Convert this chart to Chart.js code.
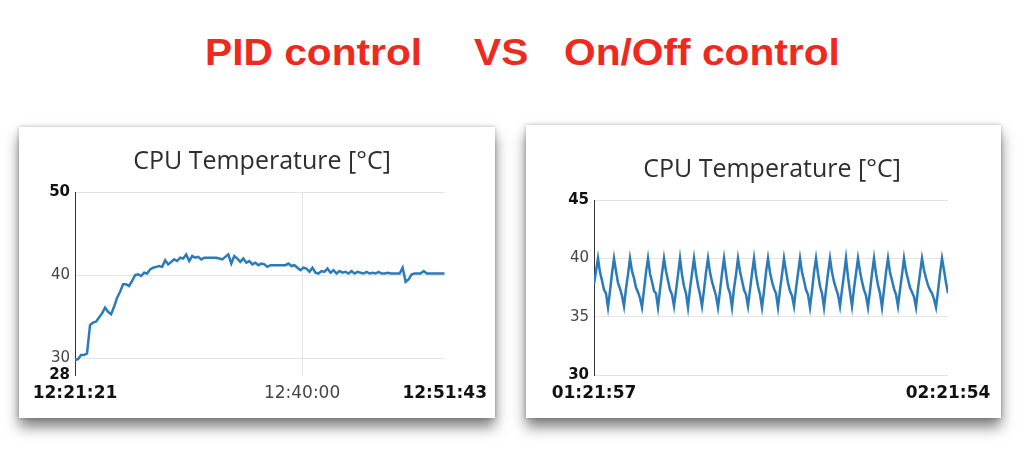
<!DOCTYPE html>
<html>
<head>
<meta charset="utf-8">
<script src="https://cdn.jsdelivr.net/npm/chart.js@4"></script>
<style>
  html, body { margin: 0; padding: 0; background: #fff; }
  body { width: 1024px; height: 476px; position: relative; overflow: hidden; }
  .headline {
    position: absolute; top: 34px; font: bold 37px "Liberation Sans", Arial, sans-serif;
    line-height: 37px; color: #ee2a1f; white-space: pre; transform: scaleX(1.1); transform-origin: left top;
  }
  .card {
    position: absolute; background: #fff;
    box-shadow: 0 9px 13px rgba(0, 0, 0, 0.5), 0 0 4px rgba(0, 0, 0, 0.25);
  }
  .card canvas { position: absolute; left: 0; top: 0; }
  .chart-title {
    position: absolute; font: 25px "Open Sans", sans-serif; line-height: 25px;
    color: #2e2e2e; white-space: nowrap; transform: translateX(-50%);
  }
</style>
</head>
<body>
<div class="headline" style="left:205px">PID control</div>
<div class="headline" style="left:474px">VS</div>
<div class="headline" style="left:564px">On/Off control</div>

<div class="card" style="left:19px; top:127px; width:476px; height:291px">
  <canvas id="pidChart" width="476" height="291"></canvas>
</div>
<div class="card" style="left:526px; top:125px; width:475px; height:293px">
  <canvas id="onoffChart" width="475" height="293"></canvas>
</div>
<div class="chart-title" style="left:262px; top:147px">CPU Temperature [°C]</div>
<div class="chart-title" style="left:772px; top:155px">CPU Temperature [°C]</div>

<script>
// PID control run: 12:21:21 -> 12:51:43 (1822 s), evenly sampled
const pidDuration = 1822;
const pidTemps = [
  29.8, 29.9, 30.4, 30.4, 30.6, 34.0, 34.3, 34.4, 34.9, 35.4,
  36.1, 35.6, 35.3, 36.2, 37.3, 38.0, 38.9, 38.9, 38.7, 39.3,
  40.0, 40.1, 39.9, 40.3, 40.2, 40.7, 40.9, 41.0, 41.1, 41.0,
  41.8, 41.3, 41.6, 41.9, 41.7, 42.1, 42.0, 42.5, 41.7, 42.3,
  42.1, 42.2, 41.9, 42.1, 42.1, 42.1, 42.1, 42.1, 42.0, 41.9,
  42.2, 42.5, 41.4, 42.3, 42.0, 41.6, 42.0, 41.5, 41.7, 41.3,
  41.5, 41.2, 41.4, 41.3, 41.0, 41.2, 41.2, 41.2, 41.2, 41.2,
  41.2, 41.4, 41.1, 41.2, 40.9, 40.6, 40.9, 40.8, 40.4, 40.9,
  40.3, 40.2, 40.5, 40.4, 40.8, 40.3, 40.6, 40.2, 40.5, 40.3,
  40.4, 40.2, 40.5, 40.2, 40.4, 40.3, 40.2, 40.4, 40.2, 40.3,
  40.2, 40.4, 40.2, 40.2, 40.3, 40.2, 40.2, 40.2, 40.2, 40.9,
  39.2, 39.5, 40.1, 40.2, 40.2, 40.2, 40.5, 40.2, 40.2, 40.2,
  40.2, 40.2, 40.2, 40.2
];
const pidXTicks = [0, 1119, 1822];
const pidXLabels = ['12:21:21', '12:40:00', '12:51:43'];
const pidYTicks = [28, 30, 40, 50];

// On/Off control run: 01:21:57 -> 02:21:54 (3597 s), evenly sampled
const onoffDuration = 3597;
const onoffTemps = [
  37.8, 38.9,
  40.0, 38.8, 38.1, 37.3, 37.0, 35.8, 37.2, 38.7,
  40.0, 38.9, 37.9, 37.4, 36.8, 35.9, 37.4, 38.6,
  40.0, 38.9, 38.3, 37.5, 37.1, 36.6, 35.8, 37.3, 38.8,
  40.0, 38.7, 38.0, 37.2, 37.0, 35.8, 37.3, 38.7,
  40.0, 38.9, 38.1, 37.3, 36.9, 35.9, 37.2, 38.6,
  40.0, 38.6, 37.6, 37.0, 35.8, 37.4, 38.7,
  40.0, 38.7, 37.7, 36.9, 35.9, 37.3, 38.8,
  40.0, 38.8, 38.0, 37.4, 36.8, 35.8, 37.2, 38.7,
  40.0, 38.7, 37.5, 37.0, 35.8, 37.4, 38.6,
  40.0, 38.9, 38.1, 37.3, 36.9, 35.9, 37.3, 38.7,
  40.0, 38.6, 37.6, 36.9, 35.8, 37.2, 38.8,
  40.0, 38.8, 38.0, 37.4, 37.0, 35.8, 37.3, 38.6,
  40.0, 38.9, 37.9, 37.2, 36.8, 35.9, 37.4, 38.7,
  40.0, 38.8, 38.1, 37.3, 36.9, 35.8, 37.2, 38.8,
  40.0, 38.7, 37.6, 37.0, 35.8, 37.3, 38.7,
  40.0, 38.8, 38.0, 37.4, 36.9, 35.9, 37.3, 38.6,
  40.0, 38.4, 37.1, 35.9, 37.4, 38.7,
  40.0, 38.9, 38.0, 37.3, 36.8, 35.8, 37.2, 38.7,
  40.0, 38.7, 37.7, 37.0, 35.8, 37.3, 38.8,
  40.0, 38.8, 38.1, 37.4, 36.9, 35.9, 37.3, 38.6,
  40.0, 38.9, 38.2, 37.5, 37.1, 36.7, 35.8, 37.4, 38.7,
  40.0, 39.0, 38.3, 37.7, 37.3, 37.0, 36.5, 35.8, 37.2, 38.7,
  40.0, 39.0, 37.9, 37.0
];
const onoffXTicks = [0, 3597];
const onoffXLabels = ['01:21:57', '02:21:54'];
const onoffYTicks = [30, 35, 40, 45];

const LINE_COLOR = '#2b7bb9';
const GRID_COLOR = '#e4e4e4';

function toPoints(values, duration) {
  const step = duration / (values.length - 1);
  return values.map((v, i) => ({ x: i * step, y: v }));
}

function isEnd(ctx, count) {
  return ctx.index === 0 || ctx.index === count - 1;
}

function renderChart(canvas, opts) {
  const { values, duration, xTicks, xLabels, yTicks, yWidth, padRight, padTop, xHeight, vGridAt, hGridSkip } = opts;
  return new Chart(canvas.getContext('2d'), {
    type: 'line',
    data: {
      datasets: [{
        data: toPoints(values, duration),
        borderColor: LINE_COLOR,
        borderWidth: 2.5,
        pointRadius: 0,
        tension: 0,
      }],
    },
    options: {
      responsive: false,
      animation: false,
      layout: { padding: { left: 0, right: padRight, top: padTop, bottom: 0 } },
      plugins: { legend: { display: false }, tooltip: { enabled: false } },
      scales: {
        x: {
          type: 'linear',
          min: 0,
          max: duration,
          afterBuildTicks(scale) { scale.ticks = xTicks.map((v) => ({ value: v })); },
          afterFit(scale) { scale.height = xHeight; },
          ticks: {
            autoSkip: false,
            maxRotation: 0,
            padding: 8,
            callback: (value, index) => xLabels[index],
            color: (ctx) => (isEnd(ctx, xTicks.length) ? '#111' : '#444'),
            font: (ctx) => ({ family: 'DejaVu Sans', size: 17, weight: isEnd(ctx, xTicks.length) ? 'bold' : 'normal' }),
          },
          grid: {
            drawTicks: false,
            color: (ctx) => (ctx.tick && ctx.tick.value === vGridAt ? GRID_COLOR : 'rgba(0,0,0,0)'),
          },
          border: { display: false },
        },
        y: {
          min: yTicks[0],
          max: yTicks[yTicks.length - 1],
          afterBuildTicks(scale) { scale.ticks = yTicks.map((v) => ({ value: v })); },
          afterFit(scale) { scale.width = yWidth; },
          ticks: {
            autoSkip: false,
            padding: 5,
            color: (ctx) => (isEnd(ctx, yTicks.length) ? '#111' : '#444'),
            font: (ctx) => ({ family: 'DejaVu Sans', size: 15, weight: isEnd(ctx, yTicks.length) ? 'bold' : 'normal' }),
          },
          grid: {
            drawTicks: false,
            color: (ctx) => (ctx.tick && ctx.tick.value === hGridSkip ? 'rgba(0,0,0,0)' : GRID_COLOR),
          },
          border: { display: true, color: '#333', width: 1 },
        },
      },
    },
  });
}

renderChart(document.getElementById('pidChart'), {
  values: pidTemps, duration: pidDuration,
  xTicks: pidXTicks, xLabels: pidXLabels, yTicks: pidYTicks,
  yWidth: 56, padRight: 50, padTop: 65, xHeight: 43,
  vGridAt: 1119, hGridSkip: 28,
});

renderChart(document.getElementById('onoffChart'), {
  values: onoffTemps, duration: onoffDuration,
  xTicks: onoffXTicks, xLabels: onoffXLabels, yTicks: onoffYTicks,
  yWidth: 68, padRight: 53, padTop: 75, xHeight: 43,
  vGridAt: null, hGridSkip: null,
});
</script>
</body>
</html>
